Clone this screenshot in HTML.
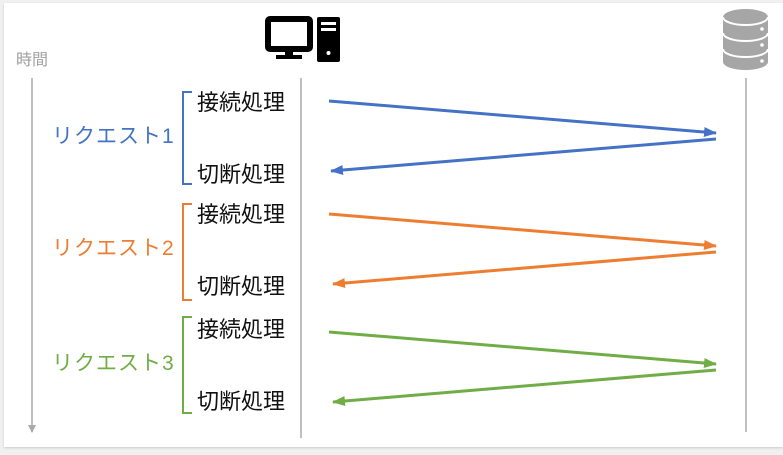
<!DOCTYPE html>
<html><head><meta charset="utf-8"><style>
body{margin:0;background:#f0f0f0;width:783px;height:455px;overflow:hidden;font-family:"Liberation Sans","Noto Sans CJK JP",sans-serif}
.card{position:absolute;left:4px;top:3px;width:779px;height:444px;background:#fff;box-shadow:0 1px 2px #ccc}
.t{position:absolute;font-size:22px;color:#111;line-height:1;white-space:nowrap}
.r{font-size:21px;letter-spacing:1px}
</style></head><body>
<div class="card"></div>
<svg width="783" height="455" style="position:absolute;left:0;top:0">
<defs>
<marker id="ab" markerWidth="13" markerHeight="10" refX="12" refY="5" orient="auto" markerUnits="userSpaceOnUse"><path d="M0,0L13,5L0,10z" fill="#4472c4"/></marker>
<marker id="ao" markerWidth="13" markerHeight="10" refX="12" refY="5" orient="auto" markerUnits="userSpaceOnUse"><path d="M0,0L13,5L0,10z" fill="#ed7d31"/></marker>
<marker id="ag" markerWidth="13" markerHeight="10" refX="12" refY="5" orient="auto" markerUnits="userSpaceOnUse"><path d="M0,0L13,5L0,10z" fill="#70ad47"/></marker>
<marker id="ax" markerWidth="8" markerHeight="8" refX="4" refY="7" orient="0" markerUnits="userSpaceOnUse"><path d="M0,0L8,0L4,8z" fill="#aaa"/></marker>
</defs>
<line x1="32" y1="78" x2="32" y2="432" stroke="#aaa" stroke-width="1.5" marker-end="url(#ax)"/>
<line x1="301" y1="78" x2="301" y2="438" stroke="#aaa" stroke-width="1.5"/>
<line x1="746" y1="78" x2="746" y2="432" stroke="#aaa" stroke-width="1.5"/>
<path d="M192,92H183V184H192" fill="none" stroke="#4472c4" stroke-width="2"/>
<path d="M192,204H183V300H192" fill="none" stroke="#ed7d31" stroke-width="2"/>
<path d="M192,317H183V413H192" fill="none" stroke="#70ad47" stroke-width="2"/>
<g stroke-width="3">
<line x1="329" y1="101" x2="716" y2="133" stroke="#4472c4" marker-end="url(#ab)"/>
<line x1="716" y1="139" x2="331" y2="171" stroke="#4472c4" marker-end="url(#ab)"/>
<line x1="329" y1="214" x2="716" y2="246" stroke="#ed7d31" marker-end="url(#ao)"/>
<line x1="716" y1="252" x2="333" y2="284" stroke="#ed7d31" marker-end="url(#ao)"/>
<line x1="329" y1="332" x2="716" y2="364" stroke="#70ad47" marker-end="url(#ag)"/>
<line x1="716" y1="370" x2="333" y2="402" stroke="#70ad47" marker-end="url(#ag)"/>
</g>
<!-- computer -->
<rect x="268" y="19" width="42" height="30" rx="2" fill="none" stroke="#000" stroke-width="6"/>
<rect x="285" y="49" width="8" height="6" fill="#000"/>
<rect x="276" y="55" width="26" height="4" fill="#000"/>
<rect x="317" y="17" width="23" height="45" rx="2" fill="#000"/>
<rect x="321" y="22" width="15" height="3" fill="#fff"/>
<rect x="321" y="28" width="15" height="3" fill="#fff"/>
<circle cx="328.5" cy="53" r="2" fill="#fff"/>
<!-- db -->
<path d="M723,17 A22.5,8 0 0 1 768,17 V62 A22.5,8 0 0 1 723,62 Z" fill="#a6a6a6"/>
<g fill="none" stroke="#fff" stroke-width="2">
<path d="M723,17 A22.5,8 0 0 0 768,17"/>
<path d="M723,33 A22.5,8 0 0 0 768,33"/>
<path d="M723,49 A22.5,8 0 0 0 768,49"/>
</g>
<g fill="#fff"><circle cx="762" cy="29" r="1.8"/><circle cx="762" cy="45" r="1.8"/><circle cx="762" cy="61" r="1.8"/></g>
</svg>
<div class="t" style="left:16px;top:53px;font-size:16px;color:#a0a0a0">時間</div>
<div class="t r" style="left:52px;top:126px;color:#4472c4">リクエスト1</div>
<div class="t r" style="left:52px;top:238px;color:#ed7d31">リクエスト2</div>
<div class="t r" style="left:52px;top:353px;color:#70ad47">リクエスト3</div>
<div class="t" style="left:197px;top:92px">接続処理</div>
<div class="t" style="left:197px;top:164px">切断処理</div>
<div class="t" style="left:197px;top:204px">接続処理</div>
<div class="t" style="left:197px;top:276px">切断処理</div>
<div class="t" style="left:197px;top:319px">接続処理</div>
<div class="t" style="left:197px;top:391px">切断処理</div>
</body></html>
